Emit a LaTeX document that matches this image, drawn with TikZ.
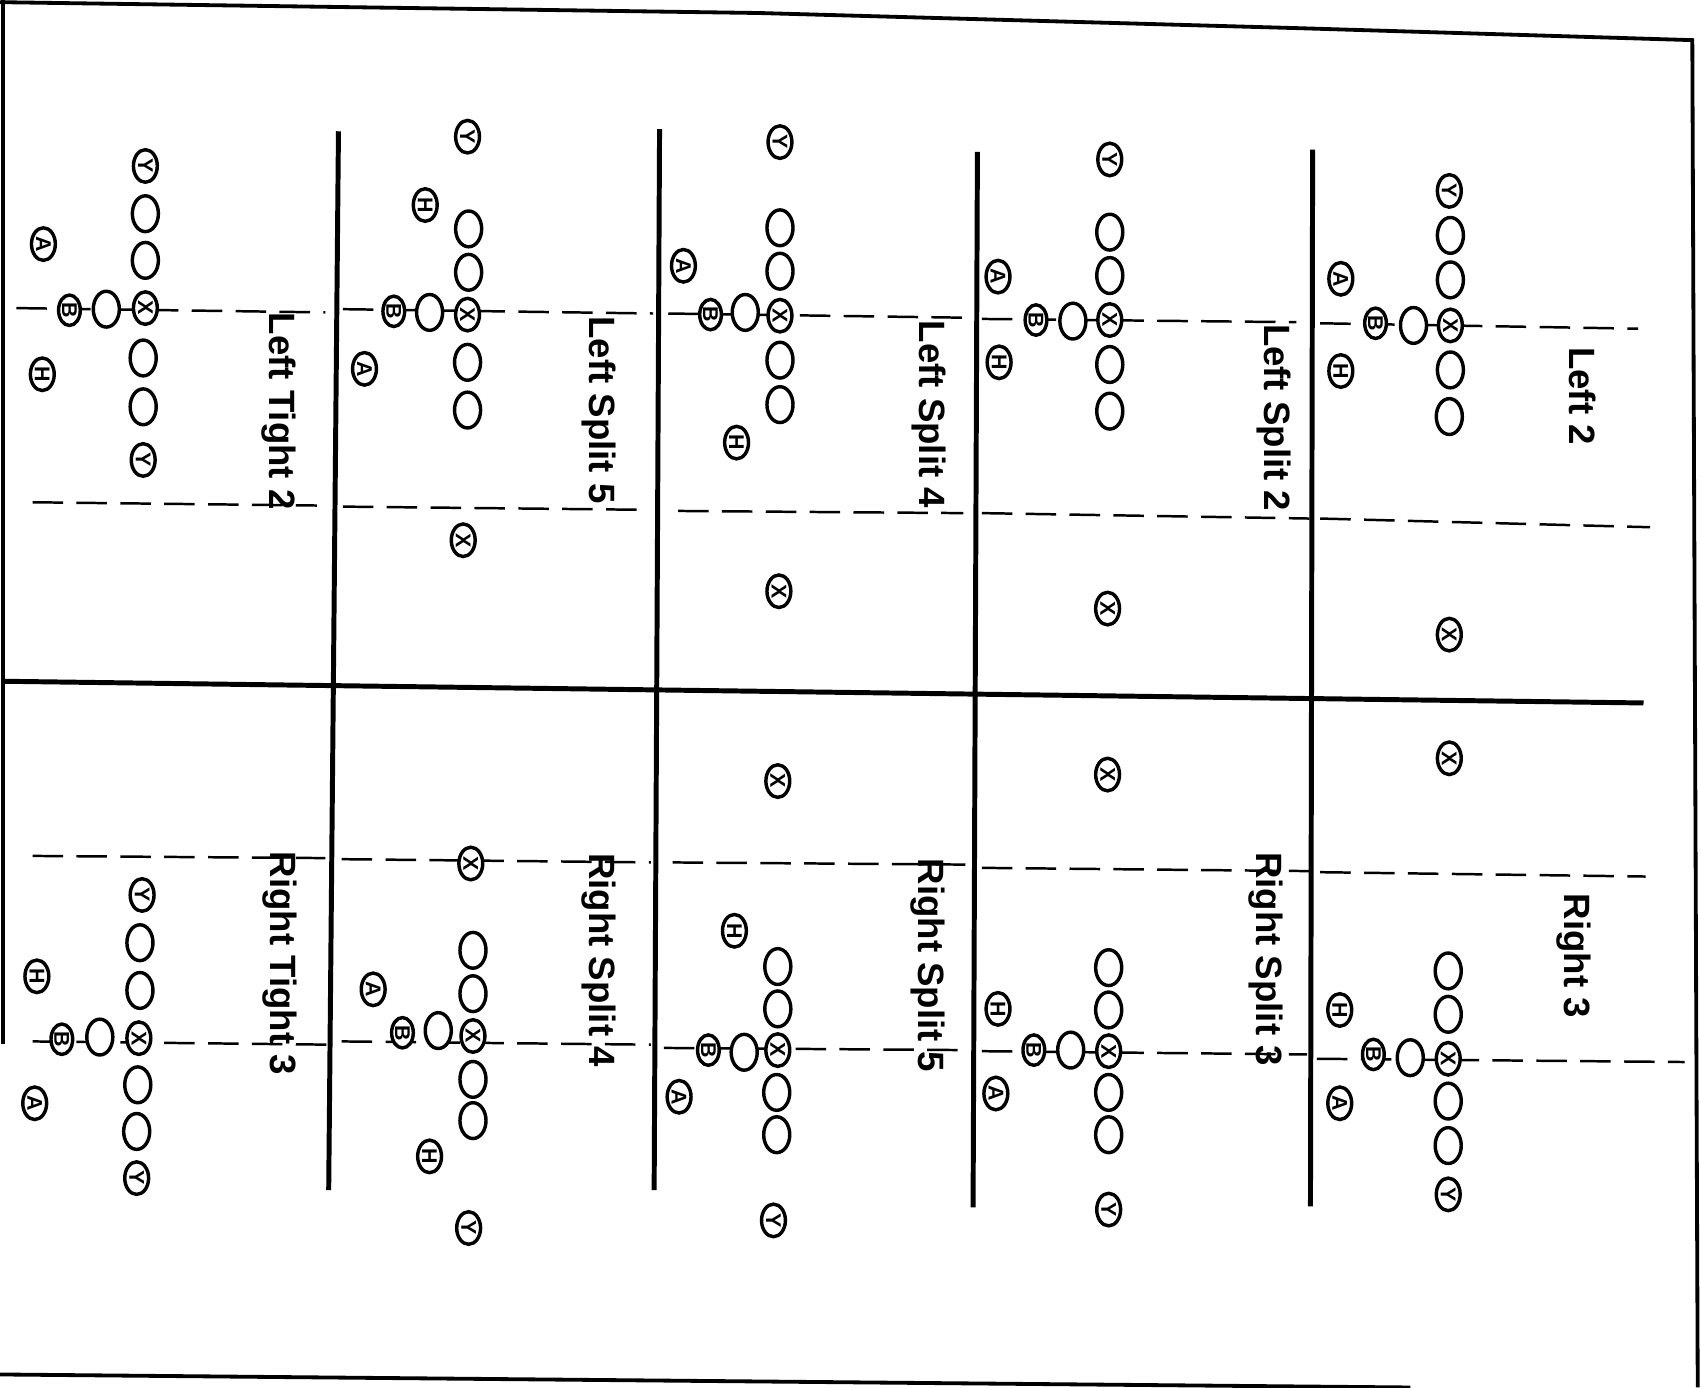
\documentclass[tikz,border=0pt]{standalone}
\usepackage{fontspec}
\setmainfont{Liberation Sans}
\usetikzlibrary{shapes.geometric}
\begin{document}
\begin{tikzpicture}[x=0.01cm,y=-0.01cm,
  lineman/.style={ellipse, draw, line width=0.9pt, fill=white, inner sep=0pt,
    minimum width=0.33cm, minimum height=0.24cm, rotate=-90},
  back/.style={ellipse, draw, line width=0.9pt, fill=white, inner sep=0pt,
    minimum width=0.30cm, minimum height=0.22cm, rotate=-90,
    font=\fontsize{5.6}{5.6}\selectfont\bfseries},
  bback/.style={back, minimum width=0.28cm, minimum height=0.20cm},
  title/.style={rotate=-90, inner sep=0pt, font=\fontsize{9.6}{10}\selectfont\bfseries},
  divider/.style={line width=1.3pt},
  frame/.style={line width=1pt},
  yardline/.style={line width=0.65pt, dash pattern=on 8pt off 3.5pt}]
\useasboundingbox (0,0) rectangle (1568,1279);
% frame of the page
\draw[frame] (0,2) -- (700,12) -- (1198,26) -- (1560,37) -- (1565,1279);
\draw[frame] (3,0) -- (3,962);
\draw[frame] (0,1267) -- (1300,1279);
% dashed yard lines
\draw[yardline] (1217,298) -- (1510,303);  \draw[yardline] (1217,478) -- (1521,486);
\draw[yardline] (905,294) -- (1195,297);   \draw[yardline] (905,473) -- (1207,478);
\draw[yardline] (616,289) -- (899,293);    \draw[yardline] (625,471) -- (888,473);
\draw[yardline] (316,285) -- (602,289);    \draw[yardline] (316,467) -- (599,470);
\draw[yardline] (15,284) -- (300,288);     \draw[yardline] (30,463) -- (292,466);
\draw[yardline] (1217,804) -- (1517,808);  \draw[yardline] (1214,976) -- (1553,979);
\draw[yardline] (905,800) -- (1207,803);   \draw[yardline] (905,969) -- (1205,972);
\draw[yardline] (620,795) -- (890,797);    \draw[yardline] (612,966) -- (890,968);
\draw[yardline] (315,792) -- (600,795);    \draw[yardline] (315,960) -- (600,963);
\draw[yardline] (30,789) -- (300,791);     \draw[yardline] (30,960) -- (305,963);
% panel dividers
\draw[divider] (1210,138) -- (1208,1112);
\draw[divider] (901,140) -- (897,1113);
\draw[divider] (608,119) -- (603,1097);
\draw[divider] (312,121) -- (303,1097);
\draw[divider] (3,628) -- (1515,648);

% ---------- Left 2 ----------
\node[title] (t1) at (1459,365) {Left 2};
\node[back] (a1y) at (1336,176) {Y};
\node[lineman] (a1o1) at (1337,217) {};
\node[lineman] (a1o2) at (1337,258) {};
\node[back] (a1x) at (1337,300) {X};
\node[lineman] (a1o3) at (1337,341) {};
\node[lineman] (a1o4) at (1336,384) {};
\node[lineman] (a1q) at (1303,300) {};
\node[bback] (a1b) at (1268,298) {B};
\node[back] (a1a) at (1236,257) {A};
\node[back] (a1h) at (1236,342) {H};
\node[back] (a1s) at (1336,585) {X};

% ---------- Left Split 2 ----------
\node[title] (t2) at (1174,385) {Left Split 2};
\node[back] (a2y) at (1023,147) {Y};
\node[lineman] (a2o1) at (1023,214) {};
\node[lineman] (a2o2) at (1023,254) {};
\node[back] (a2x) at (1023,295) {X};
\node[lineman] (a2o3) at (1023,336) {};
\node[lineman] (a2o4) at (1023,379) {};
\node[lineman] (a2q) at (989,296) {};
\node[bback] (a2b) at (955,295) {B};
\node[back] (a2a) at (920,255) {A};
\node[back] (a2h) at (921,334) {H};
\node[back] (a2s) at (1021,561) {X};

% ---------- Left Split 4 ----------
\node[title] (t3) at (856,382) {Left Split 4};
\node[back] (a3y) at (719,131) {Y};
\node[lineman] (a3o1) at (719,210) {};
\node[lineman] (a3o2) at (719,250) {};
\node[back] (a3x) at (719,291) {X};
\node[lineman] (a3o3) at (719,332) {};
\node[lineman] (a3o4) at (719,373) {};
\node[lineman] (a3q) at (687,288) {};
\node[bback] (a3b) at (655,290) {B};
\node[back] (a3a) at (630,245) {A};
\node[back] (a3h) at (679,408) {H};
\node[back] (a3s) at (718,545) {X};

% ---------- Left Split 5 ----------
\node[title] (t4) at (552,378) {Left Split 5};
\node[back] (a4y) at (431,126) {Y};
\node[back] (a4h) at (392,189) {H};
\node[lineman] (a4o1) at (432,211) {};
\node[lineman] (a4o2) at (432,251) {};
\node[back] (a4x) at (431,290) {X};
\node[lineman] (a4o3) at (431,334) {};
\node[lineman] (a4o4) at (431,378) {};
\node[lineman] (a4q) at (396,288) {};
\node[bback] (a4b) at (363,287) {B};
\node[back] (a4a) at (336,340) {A};
\node[back] (a4s) at (427,498) {X};

% ---------- Left Tight 2 ----------
\node[title] (t5) at (257,379) {Left Tight 2};
\node[back] (a5y1) at (134,153) {Y};
\node[lineman] (a5o1) at (134,197) {};
\node[lineman] (a5o2) at (134,240) {};
\node[back] (a5x) at (134,284) {X};
\node[lineman] (a5o3) at (132,330) {};
\node[lineman] (a5o4) at (132,375) {};
\node[back] (a5y2) at (132,424) {Y};
\node[lineman] (a5q) at (98,285) {};
\node[bback] (a5b) at (64,286) {B};
\node[back] (a5a) at (40,225) {A};
\node[back] (a5h) at (39,345) {H};

% ---------- Right 3 ----------
\node[title] (t6) at (1451,881) {Right 3};
\node[back] (b1s) at (1336,699) {X};
\node[lineman] (b1o1) at (1335,895) {};
\node[lineman] (b1o2) at (1335,935) {};
\node[back] (b1x) at (1335,976) {X};
\node[lineman] (b1o3) at (1335,1015) {};
\node[lineman] (b1o4) at (1335,1056) {};
\node[back] (b1y) at (1335,1101) {Y};
\node[lineman] (b1q) at (1300,975) {};
\node[bback] (b1b) at (1266,972) {B};
\node[back] (b1h) at (1235,931) {H};
\node[back] (b1a) at (1235,1017) {A};

% ---------- Right Split 3 ----------
\node[title] (t7) at (1167,884) {Right Split 3};
\node[back] (b2s) at (1021,714) {X};
\node[lineman] (b2o1) at (1022,892) {};
\node[lineman] (b2o2) at (1022,931) {};
\node[back] (b2x) at (1022,969) {X};
\node[lineman] (b2o3) at (1022,1007) {};
\node[lineman] (b2o4) at (1022,1046) {};
\node[back] (b2y) at (1022,1115) {Y};
\node[lineman] (b2q) at (987,968) {};
\node[bback] (b2b) at (953,968) {B};
\node[back] (b2h) at (920,930) {H};
\node[back] (b2a) at (918,1008) {A};

% ---------- Right Split 5 ----------
\node[title] (t8) at (855,890) {Right Split 5};
\node[back] (b3s) at (717,720) {X};
\node[back] (b3h) at (677,858) {H};
\node[lineman] (b3o1) at (717,891) {};
\node[lineman] (b3o2) at (717,930) {};
\node[back] (b3x) at (717,968) {X};
\node[lineman] (b3o3) at (716,1007) {};
\node[lineman] (b3o4) at (716,1046) {};
\node[back] (b3y) at (713,1125) {Y};
\node[lineman] (b3q) at (686,970) {};
\node[bback] (b3b) at (653,968) {B};
\node[back] (b3a) at (626,1011) {A};

% ---------- Right Split 4 ----------
\node[title] (t9) at (552,885) {Right Split 4};
\node[back] (b4s) at (434,796) {X};
\node[lineman] (b4o1) at (436,876) {};
\node[lineman] (b4o2) at (436,916) {};
\node[back] (b4x) at (436,955) {X};
\node[lineman] (b4o3) at (436,995) {};
\node[lineman] (b4o4) at (436,1033) {};
\node[back] (b4h) at (396,1066) {H};
\node[back] (b4y) at (432,1132) {Y};
\node[lineman] (b4q) at (404,950) {};
\node[bback] (b4b) at (371,952) {B};
\node[back] (b4a) at (344,912) {A};

% ---------- Right Tight 3 ----------
\node[title] (t10) at (258,888) {Right Tight 3};
\node[back] (b5y1) at (131,825) {Y};
\node[lineman] (b5o1) at (129,869) {};
\node[lineman] (b5o2) at (129,913) {};
\node[back] (b5x) at (128,957) {X};
\node[lineman] (b5o3) at (127,1000) {};
\node[lineman] (b5o4) at (126,1043) {};
\node[back] (b5y2) at (126,1086) {Y};
\node[lineman] (b5q) at (92,956) {};
\node[bback] (b5b) at (57,958) {B};
\node[back] (b5h) at (34,900) {H};
\node[back] (b5a) at (32,1017) {A};
\end{tikzpicture}
\end{document}
